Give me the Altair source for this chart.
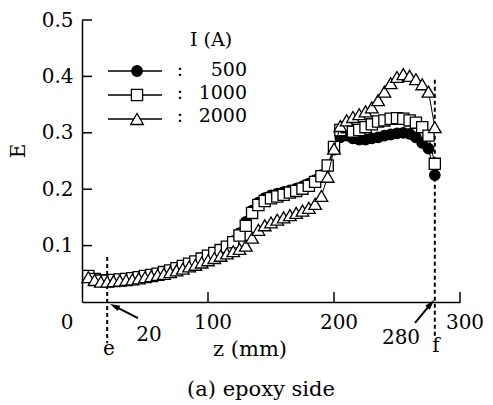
import altair as alt
import pandas as pd

# ---------------- data ----------------
z_mm = list(range(5, 285, 5))  # 5 ... 280 mm

e_500 = [
    0.045, 0.040, 0.037, 0.037, 0.038, 0.039, 0.040, 0.041, 0.043, 0.045,
    0.047, 0.049, 0.052, 0.055, 0.059, 0.063, 0.067, 0.071, 0.076, 0.081,
    0.086, 0.091, 0.098, 0.108, 0.122, 0.142, 0.162, 0.176, 0.184, 0.189,
    0.192, 0.195, 0.198, 0.201, 0.205, 0.210, 0.216, 0.225, 0.240, 0.270,
    0.292, 0.295, 0.290, 0.288, 0.288, 0.290, 0.292, 0.295, 0.297, 0.299,
    0.300, 0.298, 0.292, 0.282, 0.272, 0.225,
]
e_1000 = [
    0.046, 0.041, 0.038, 0.038, 0.039, 0.040, 0.041, 0.042, 0.044, 0.046,
    0.048, 0.050, 0.053, 0.056, 0.060, 0.064, 0.068, 0.072, 0.077, 0.082,
    0.087, 0.092, 0.098, 0.106, 0.118, 0.135, 0.158, 0.172, 0.179, 0.184,
    0.187, 0.190, 0.194, 0.197, 0.201, 0.206, 0.213, 0.223, 0.242, 0.275,
    0.305, 0.310, 0.302, 0.305, 0.310, 0.315, 0.320, 0.322, 0.325, 0.326,
    0.325, 0.322, 0.318, 0.310, 0.295, 0.245,
]
e_2000 = [
    0.044, 0.039, 0.036, 0.036, 0.037, 0.038, 0.039, 0.040, 0.042, 0.044,
    0.046, 0.048, 0.050, 0.053, 0.056, 0.059, 0.063, 0.066, 0.070, 0.074,
    0.078, 0.082, 0.086, 0.090, 0.094, 0.100, 0.114, 0.128, 0.136, 0.141,
    0.146, 0.150, 0.154, 0.158, 0.162, 0.167, 0.174, 0.188, 0.222, 0.272,
    0.312, 0.322, 0.328, 0.333, 0.338, 0.345, 0.358, 0.373, 0.388, 0.399,
    0.404, 0.401, 0.395, 0.386, 0.373, 0.310,
]

series_labels = ["500", "1000", "2000"]
legend_title = "I (A)"
x_tick_values = [0, 100, 200, 300]
y_tick_values = [0.1, 0.2, 0.3, 0.4, 0.5]

# annotation markers (z in mm)
marker_z = [20, 280]
marker_names = ["e", "f"]
marker_labels = ["20", "280"]

# ---------------- styling ----------------
FONT = "DejaVu Serif"
W, H = 378, 282
xs = alt.Scale(domain=[0, 300], nice=False, zero=False)
ys = alt.Scale(domain=[0, 0.5], nice=False, zero=False)

X_AXIS = alt.Axis(domain=True, domainColor="black", domainWidth=1.5,
                  ticks=False, labels=False, grid=False, title=None)
Y_AXIS = alt.Axis(values=y_tick_values, format=".1f", domain=True,
                  domainColor="black", domainWidth=1.5, ticks=False,
                  labelFont=FONT, labelFontSize=20, labelColor="black",
                  labelPadding=9, grid=False, title=None)


def X(field="z"):
    return alt.X(f"{field}:Q", scale=xs, axis=X_AXIS, title=None)


def Y(field="E"):
    return alt.Y(f"{field}:Q", scale=ys, axis=Y_AXIS, title=None)


def one():
    return pd.DataFrame({"k": [0]})


layers = []

# axes layer (invisible points spanning the domain)
axes_df = pd.DataFrame({"z": [0, 300], "E": [0, 0.5]})
layers.append(alt.Chart(axes_df).mark_point(opacity=0).encode(x=X(), y=Y()))

# inward ticks
layers.append(
    alt.Chart(pd.DataFrame({"E": y_tick_values})).mark_rule(
        color="black", strokeWidth=1.5).encode(
        y=Y(), x=alt.value(0), x2=alt.value(10))
)
layers.append(
    alt.Chart(pd.DataFrame({"z": x_tick_values[1:]})).mark_rule(
        color="black", strokeWidth=1.5).encode(
        x=X(), y=alt.value(H), y2=alt.value(H - 10))
)

# x tick labels
layers.append(
    alt.Chart(pd.DataFrame({"z": x_tick_values[:1], "t": ["0"]})).mark_text(
        font=FONT, fontSize=20, color="black", baseline="middle", dx=-15
    ).encode(x=X(), y=alt.value(303), text="t:N")
)
layers.append(
    alt.Chart(pd.DataFrame({"z": x_tick_values[1:],
                            "t": [str(v) for v in x_tick_values[1:]]})).mark_text(
        font=FONT, fontSize=20, color="black", baseline="middle", dx=5
    ).encode(x=X(), y=alt.value(303), text="t:N")
)

# dashed marker lines
layers.append(
    alt.Chart(pd.DataFrame({"z": marker_z, "E": [0.08, 0.394],
                            "E2": [-0.073, -0.064]})).mark_rule(
        color="black", strokeWidth=2, strokeDash=[4, 3]).encode(
        x=X(), y=Y(), y2="E2:Q")
)

# series: line + markers (drawn circles, squares, triangles)
styles = [
    (e_500, "circle", "black", 110),
    (e_1000, "square", "white", 125),
    (e_2000, "triangle-up", "white", 160),
]
for vals, shape, fill, size in styles:
    df = pd.DataFrame({"z": z_mm, "E": vals})
    layers.append(alt.Chart(df).mark_line(color="black", strokeWidth=1).encode(x=X(), y=Y()))
    layers.append(
        alt.Chart(df).mark_point(
            shape=shape, filled=True, fill=fill, stroke="black",
            strokeWidth=1.3, size=size, opacity=1, fillOpacity=1
        ).encode(x=X(), y=Y())
    )

# arrows to 20 and 280
arrow_df = pd.DataFrame({
    "z": [44.4, 264.3], "E": [-0.0284, -0.0372],
    "z2": [25.8, 276.8], "E2": [-0.0074, -0.0034],
})
layers.append(
    alt.Chart(arrow_df).mark_rule(color="black", strokeWidth=2).encode(
        x=X(), y=Y(), x2="z2:Q", y2="E2:Q")
)
head_path = "M0,-1L0.6,1L-0.6,1Z"
for hz, he, ang in [(25.8, -0.0074, 296.6), (276.8, -0.0034, 39.6)]:
    layers.append(
        alt.Chart(pd.DataFrame({"z": [hz], "E": [he]})).mark_point(
            shape=head_path, filled=True, color="black", size=100,
            angle=ang, opacity=1).encode(x=X(), y=Y())
    )


# annotation texts
def txt(text, x, y, size=20, angle=0, align="center"):
    kw = dict(font=FONT, fontSize=size, color="black", fill="black",
              baseline="middle", align=align)
    if angle:
        kw["angle"] = angle
    return alt.Chart(one()).mark_text(**kw).encode(
        x=alt.value(x), y=alt.value(y), text=alt.value(text))


layers.append(txt(marker_labels[0], 67, 315))
layers.append(txt(marker_labels[1], 319, 318))
layers.append(txt(marker_names[0], 27, 329))
layers.append(txt(marker_names[1], 354, 326))
layers.append(txt("z (mm)", 168, 330, size=21))
layers.append(txt("(a) epoxy side", 179, 370, size=21))
layers.append(txt("E", -63, 131, size=20, angle=270))

# manual legend
layers.append(txt(legend_title, 129, 20, size=19))
leg_rows = [51, 75, 99]
leg_text_rows = [50, 73, 96]
for (vals, shape, fill, size), ly, ty, lab in zip(styles, leg_rows, leg_text_rows, series_labels):
    layers.append(
        alt.Chart(one()).mark_rule(color="black", strokeWidth=1.3).encode(
            x=alt.value(26), x2=alt.value(80), y=alt.value(ly))
    )
    layers.append(
        alt.Chart(one()).mark_point(
            shape=shape, filled=True, fill=fill, stroke="black",
            strokeWidth=1.3, size=size, opacity=1, fillOpacity=1
        ).encode(x=alt.value(55), y=alt.value(ly))
    )
    layers.append(txt(":", 98, ty, size=19))
    layers.append(txt(lab, 165, ty, size=19, align="right"))

chart = alt.layer(*layers).properties(
    width=W, height=H,
    padding={"left": 82, "top": 20, "right": 33, "bottom": 103},
    autosize=alt.AutoSizeParams(type="none"),
    background="white",
).configure_view(stroke=None)

chart.save("out.html", embed_options={"renderer": "svg", "actions": False})
